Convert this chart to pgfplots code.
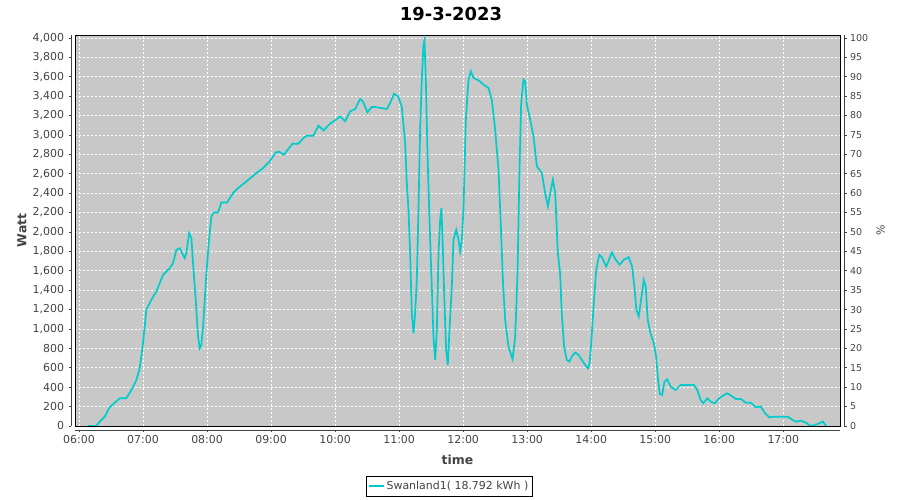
\documentclass[border=0pt]{standalone}
\usepackage{pgfplots}
\pgfplotsset{compat=1.18}
\usepackage{fontspec}
\setmainfont{DejaVu Sans}
\definecolor{bg}{RGB}{200,200,200}
\definecolor{cy}{RGB}{0,204,204}
\definecolor{tk}{RGB}{68,68,68}

\pgfplotstableread{
h w
6.141 0
6.271 0
6.323 45
6.401 96
6.479 193
6.557 240
6.635 285
6.740 285
6.818 371
6.896 475
6.948 595
7.000 853
7.052 1197
7.130 1300
7.208 1386
7.313 1558
7.417 1627
7.469 1678
7.521 1816
7.573 1833
7.651 1730
7.677 1781
7.719 1988
7.755 1936
7.781 1678
7.823 1300
7.859 922
7.885 801
7.911 836
7.938 1025
7.990 1575
8.031 1919
8.068 2160
8.104 2201
8.172 2201
8.224 2304
8.313 2304
8.406 2400
8.484 2452
8.615 2521
8.771 2607
8.875 2658
8.979 2727
9.073 2820
9.125 2827
9.198 2796
9.240 2830
9.333 2909
9.427 2909
9.505 2968
9.557 2992
9.661 2992
9.740 3095
9.818 3047
9.922 3116
10.000 3150
10.078 3191
10.156 3140
10.234 3243
10.313 3267
10.391 3370
10.432 3346
10.505 3233
10.573 3288
10.625 3288
10.807 3267
10.859 3329
10.922 3425
10.990 3391
11.042 3288
11.094 2916
11.120 2504
11.146 2228
11.172 1781
11.198 1162
11.224 956
11.250 1162
11.276 1506
11.302 2228
11.328 3054
11.354 3570
11.380 3931
11.396 3976
11.417 3570
11.443 2813
11.474 2125
11.510 1437
11.536 922
11.563 681
11.589 990
11.615 1781
11.641 2125
11.661 2246
11.682 1850
11.708 1266
11.734 784
11.760 629
11.786 990
11.823 1437
11.849 1919
11.891 2022
11.927 1919
11.953 1799
11.979 1919
12.005 2228
12.042 3157
12.083 3570
12.120 3656
12.161 3587
12.240 3563
12.318 3518
12.396 3484
12.448 3363
12.500 3054
12.552 2641
12.589 2057
12.620 1506
12.656 1094
12.708 818
12.771 688
12.813 922
12.849 1575
12.880 2641
12.906 3329
12.943 3570
12.969 3553
12.995 3312
13.047 3157
13.099 2985
13.151 2676
13.229 2607
13.281 2400
13.323 2263
13.359 2400
13.401 2538
13.438 2400
13.479 1781
13.514 1575
13.540 1162
13.577 818
13.618 681
13.660 664
13.697 715
13.749 757
13.801 733
13.854 681
13.906 629
13.948 595
13.974 647
14.000 853
14.037 1231
14.078 1609
14.125 1764
14.167 1740
14.235 1644
14.324 1788
14.376 1720
14.444 1661
14.507 1712
14.585 1740
14.638 1644
14.674 1437
14.706 1197
14.742 1128
14.779 1300
14.821 1506
14.852 1437
14.883 1094
14.925 956
14.978 853
15.014 715
15.045 475
15.071 330
15.108 320
15.145 457
15.187 481
15.239 406
15.317 371
15.396 423
15.474 423
15.605 423
15.657 371
15.709 268
15.751 234
15.814 285
15.866 251
15.929 234
15.997 285
16.075 320
16.128 337
16.206 303
16.258 279
16.337 279
16.415 240
16.493 240
16.572 193
16.650 200
16.713 131
16.781 89
16.859 96
16.964 96
17.068 96
17.147 62
17.199 45
17.277 55
17.356 34
17.424 0
17.487 10
17.565 28
17.617 45
17.670 0
}\datatable

\begin{document}
\begin{tikzpicture}[x=1bp,y=1bp]
\useasboundingbox (0,0) rectangle (900,500);
\begin{axis}[
  name=ax,
  at={(75bp,74bp)}, anchor=south west,
  scale only axis, width=765bp, height=391bp,
  xmin=5.9375, xmax=17.886, ymin=0, ymax=4030,
  axis background/.style={fill=bg},
  axis line style={black, line width=0.8bp},
  grid=major,
  grid style={white, dash pattern=on 2bp off 2bp, line width=0.6bp},
  tick align=outside, major tick length=2.5bp,
  xtick pos=bottom, ytick pos=left,
  xtick={6,7,...,17},
  xticklabels={06:00,07:00,08:00,09:00,10:00,11:00,12:00,13:00,14:00,15:00,16:00,17:00},
  ytick={0,200,...,4000},
  scaled y ticks=false,
  /pgf/number format/1000 sep={,},
  /pgf/number format/assume math mode=true,
  xtick style={tk, line width=0.6bp, yshift=-4bp},
  ytick style={tk, line width=0.6bp, xshift=-4bp},
  xticklabel style={font=\fontsize{11}{12}\selectfont, text=tk, yshift=-3.5bp},
  yticklabel style={font=\fontsize{11}{12}\selectfont, text=tk, xshift=-5bp},
  xlabel={time},
  xlabel style={at={(axis description cs:0.5,-0.087)}, anchor=center, font=\bfseries\fontsize{12.5}{14}\selectfont, text=tk},
  ylabel={Watt},
  ylabel style={at={(axis description cs:-0.0693,0.5)}, anchor=center, font=\bfseries\fontsize{12.5}{14}\selectfont, text=tk},
  legend style={at={(axis description cs:0.489,-0.128)}, anchor=north, draw=black, fill=white, line width=0.6bp, font=\fontsize{11}{12}\selectfont, inner xsep=2bp, inner ysep=3bp, text=tk},
  legend image code/.code={\draw[#1] (0bp,0bp) -- (15bp,0bp);},
]
\addplot[cy, line width=1.7bp] table[x=h, y=w] {\datatable};
\addlegendentry{Swanland1( 18.792 kWh )}
\end{axis}
\begin{axis}[
  at={(75bp,74bp)}, anchor=south west,
  scale only axis, width=765bp, height=391bp,
  xmin=5.9375, xmax=17.886, ymin=0, ymax=100.75,
  axis x line=none, axis y line*=right,
  axis line style={black, line width=0.8bp},
  tick align=outside, major tick length=2.5bp,
  ytick={0,5,...,100},
  ytick style={tk, line width=0.6bp, xshift=4bp},
  /pgf/number format/assume math mode=true,
  yticklabel style={font=\fontsize{9.5}{11}\selectfont, text=tk, xshift=4bp},
  ylabel={\%},
  ylabel style={at={(axis description cs:1.053,0.5)}, anchor=center, font=\fontsize{11}{12}\selectfont, text=tk},
]
\end{axis}
\draw[tk, line width=0.6bp] ([xshift=-4bp]ax.south west) -- ([xshift=-4bp]ax.north west);
\draw[tk, line width=0.6bp] ([yshift=-4bp]ax.south west) -- ([yshift=-4bp]ax.south east);
\draw[tk, line width=0.6bp] ([xshift=4bp]ax.south east) -- ([xshift=4bp]ax.north east);
\node[font=\bfseries\fontsize{18}{20}\selectfont, anchor=center] at (451,486) {19-3-2023};
\end{tikzpicture}
\end{document}
